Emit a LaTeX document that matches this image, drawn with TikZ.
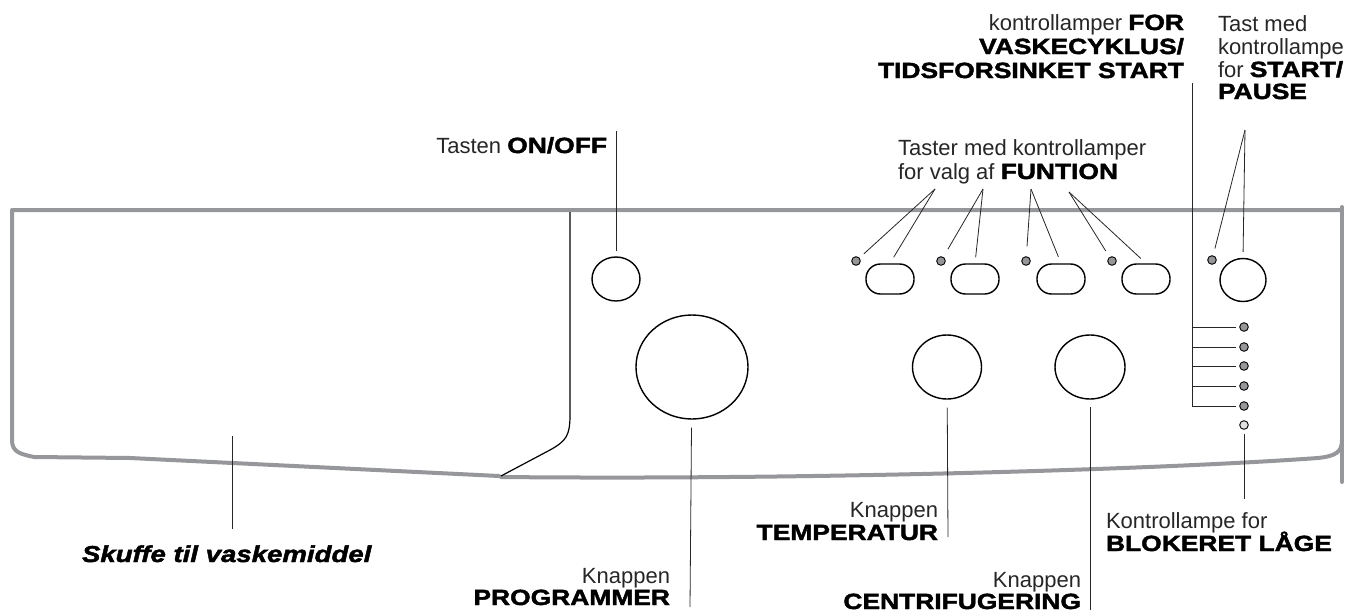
\documentclass[tikz,border=0pt]{standalone}
\usepackage{fontspec}
\setmainfont{Liberation Sans}
\newfontfamily\heavy[FakeStretch=1.2,FakeBold=2]{Liberation Sans Bold}
\newfontfamily\heavyit[FakeStretch=1.2,FakeBold=2]{Liberation Sans Bold Italic}
\usetikzlibrary{shapes.geometric, positioning, calc}
\definecolor{panelgray}{RGB}{150,151,155}
\definecolor{ledgray}{RGB}{150,150,152}
\newcommand{\hv}[1]{{\heavy\color{black}#1}}

\begin{document}
\begin{tikzpicture}[x=1pt, y=-1pt,
    panel/.style={draw=panelgray, line width=4pt, line join=round, line cap=round},
    knob/.style={draw, ellipse, line width=1.4pt, inner sep=0pt},
    funkey/.style={draw, rectangle, rounded corners=14.5pt, minimum width=48pt, minimum height=30pt, line width=1.4pt, inner sep=0pt},
    led/.style={draw, circle, fill=ledgray, minimum size=8.6pt, inner sep=0pt, line width=0.9pt},
    leader/.style={draw=black!85, line width=0.8pt},
    lbl/.style={inner sep=0pt, outer sep=0pt, font=\fontsize{22}{24}\selectfont, text=black!85}
]
\useasboundingbox (0,0) rectangle (1350,613);

% panel outline
\draw[panel] (1342,482) -- (1342,207);
\draw[panel] (1342,210) -- (12,210) -- (12,440) .. controls (12,452) and (20,454) .. (34,457)
    -- (130,458) -- (499,476);
\draw[panel] (501,477) .. controls (800,480) and (1150,470) .. (1318,458)
    .. controls (1336,456) and (1342,452) .. (1342,440);
% drawer
\draw[line width=1.2pt] (570,212) -- (570,415) .. controls (570,436) and (566,441) .. (550,450) -- (501,476);

% keys and knobs
\node[knob, minimum width=48pt, minimum height=44pt] (onoff) at (616,279) {};
\node[knob, minimum width=112pt, minimum height=104pt] (prog) at (692,367) {};
\node[knob, minimum width=69pt, minimum height=64pt] (temp) at (947,367) {};
\node[knob, minimum width=70pt, minimum height=64pt] (centr) at (1090,367) {};
\node[knob, minimum width=46pt, minimum height=43pt] (start) at (1243,280) {};

\node[funkey] (fun1) at (890,279) {};
\node[funkey] (fun2) at (975,279) {};
\node[funkey] (fun3) at (1061,279) {};
\node[funkey] (fun4) at (1146,279) {};

\node[led] (led1) at (856,261) {};
\node[led] (led2) at (941,261) {};
\node[led] (led3) at (1026,261) {};
\node[led] (led4) at (1112,261) {};
\node[led] (ledst) at (1212,260) {};

\foreach \i/\y in {1/327,2/347,3/366,4/386,5/406}
  \node[led] (pl\i) at (1244,\y) {};
\node[led, fill=black!12] (pl6) at (1244,425) {};

% labels (base = last line)
\node[lbl, anchor=base east] (lonoff) at (607,153) {Tasten \hv{ON/OFF}};
\node[lbl, anchor=base west, align=left] (lfun) at (898,179) {Taster med kontrollamper\\for valg af \hv{FUNTION}};
\node[lbl, anchor=base east, align=right] (lcyc) at (1184,78) {kontrollamper \hv{FOR}\\\hv{VASKECYKLUS/}\\\hv{TIDSFORSINKET START}};
\node[lbl, anchor=base west, align=left] (lstart) at (1218,99) {Tast med\\[-1pt]kontrollampe\\[-1pt]for \hv{START/}\\[-2pt]\hv{PAUSE}};
\node[lbl, anchor=base east, align=right] (lprog) at (670,605) {Knappen\\[-2pt]\hv{PROGRAMMER}};
\node[lbl, anchor=base east, align=right] (ltemp) at (938,540) {Knappen\\[-1pt]\hv{TEMPERATUR}};
\node[lbl, anchor=base east, align=right] (lcentr) at (1081,609) {Knappen\\[-2pt]\hv{CENTRIFUGERING}};
\node[lbl, anchor=base west, align=left] (lblok) at (1106,551) {Kontrollampe for\\[-1pt]\hv{BLOKERET LÅGE}};
\node[lbl, anchor=base west, text=black, font=\fontsize{23}{25}\selectfont] (lskuf) at (82,562) {\heavyit Skuffe til vaskemiddel};

% leader ends
\coordinate (onofftop) at (616,131);
\coordinate (fa1) at (935,189);
\coordinate (fa2) at (983,189);
\coordinate (fa3) at (1031,189);
\coordinate (fa4) at (1069,192);
\coordinate (sa) at (1245,130);
\coordinate (brtop) at (1192,83);
\coordinate (progbot) at (690,607);
\coordinate (tempbot) at (948,537);
\coordinate (centrbot) at (1090,610);
\coordinate (blokbot) at (1244,499);
\coordinate (drawer) at (232,436);
\coordinate (skufbot) at (232,529);

% leaders
\draw[leader, shorten >=5pt] (onofftop) -- (onoff);
\draw[leader, shorten >=6pt] (fa1) -- (led1);
\draw[leader, shorten >=7pt] (fa1) -- (fun1.north);
\draw[leader, shorten >=9pt] (fa2) -- (led2);
\draw[leader, shorten >=6pt] (fa2) -- (fun2.north);
\draw[leader, shorten >=10pt] (fa3) -- (led3);
\draw[leader, shorten >=7pt] (fa3) -- (fun3.north);
\draw[leader, shorten >=7pt] (fa4) -- (led4);
\draw[leader, shorten >=7pt] (fa4) -- (fun4.north);
\draw[leader, shorten >=7pt] (sa) -- (ledst);
\draw[leader, shorten >=6pt] (sa) -- (start.north);
\draw[leader, shorten >=3pt] (brtop) |- (pl5.west);
\foreach \i in {1,2,3,4}
  \draw[leader, shorten >=3pt] (brtop |- pl\i) -- (pl\i.west);
\draw[leader, shorten >=4pt] (blokbot) -- (pl6);
\draw[leader, shorten >=8pt] (progbot) -- (prog);
\draw[leader, shorten >=8pt] (tempbot) -- (temp);
\draw[leader, shorten >=7pt] (centrbot) -- (centr);
\draw[leader] (drawer) -- (skufbot);
\end{tikzpicture}
\end{document}
